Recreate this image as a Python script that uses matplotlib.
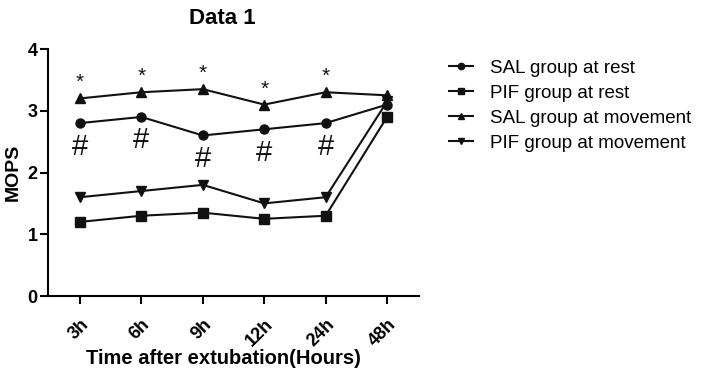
import matplotlib
matplotlib.use("Agg")
import matplotlib.pyplot as plt

plt.rcParams["font.family"] = ["Liberation Sans", "DejaVu Sans"]

hours = ["3h", "6h", "9h", "12h", "24h", "48h"]
sal_rest = [2.8, 2.9, 2.6, 2.7, 2.8, 3.1]
pif_rest = [1.2, 1.3, 1.35, 1.25, 1.3, 2.9]
sal_move = [3.2, 3.3, 3.35, 3.1, 3.3, 3.25]
pif_move = [1.6, 1.7, 1.8, 1.5, 1.6, 3.15]
star_idx = [0, 1, 2, 3, 4]
hash_idx = [0, 1, 2, 3, 4]

fig = plt.figure(figsize=(7.02, 3.73), dpi=100)
ax = fig.add_axes([0.0684, 0.2064, 0.5285, 0.6622])
x = list(range(len(hours)))

kw = dict(color="#111111", lw=1.5, markersize=6.5, clip_on=False)
ax.plot(x, sal_rest, marker="o", label="SAL group at rest", **kw)
ax.plot(x, pif_rest, marker="s", label="PIF group at rest", **kw)
ax.plot(x, sal_move, marker="^", label="SAL group at movement", **kw)
ax.plot(x, pif_move, marker="v", label="PIF group at movement", **kw)

for i in star_idx:
    ax.text(x[i], sal_move[i] + 0.1, "*", ha="center", va="bottom", fontsize=15,
            color="#111111")
for i in hash_idx:
    ax.text(x[i], sal_rest[i] - 0.38, "#", ha="center", va="center", fontsize=21,
            color="#111111")

ax.set_xlim(-0.52, 5.52)
ax.set_ylim(0, 4)
ax.set_yticks([0, 1, 2, 3, 4])
ax.set_xticks(x)
ax.set_xticklabels(hours, rotation=45, ha="right", rotation_mode="anchor")
for sp in ["top", "right"]:
    ax.spines[sp].set_visible(False)
for sp in ["left", "bottom"]:
    ax.spines[sp].set_linewidth(1.5)
ax.tick_params(direction="out", width=1.5, length=5.5, labelsize=13)
ax.tick_params(axis="x", pad=9)
ax.tick_params(axis="y", pad=2)
for lab in ax.get_xticklabels() + ax.get_yticklabels():
    lab.set_fontweight("bold")

ax.set_title("Data 1", fontsize=16, fontweight="bold", pad=18, x=0.469)
ax.set_ylabel("MOPS", fontsize=14, fontweight="bold", labelpad=4)
ax.set_xlabel("Time after extubation(Hours)", fontsize=14.5, fontweight="bold",
              va="center")
ax.xaxis.set_label_coords(0.472, -0.252)

fig.legend(loc="upper left", bbox_to_anchor=(0.615, 0.885), frameon=False,
           fontsize=13.5, handlelength=1.3, handletextpad=0.9, labelspacing=0.42,
           markerscale=0.7)

fig.savefig("out.png", dpi=100)
